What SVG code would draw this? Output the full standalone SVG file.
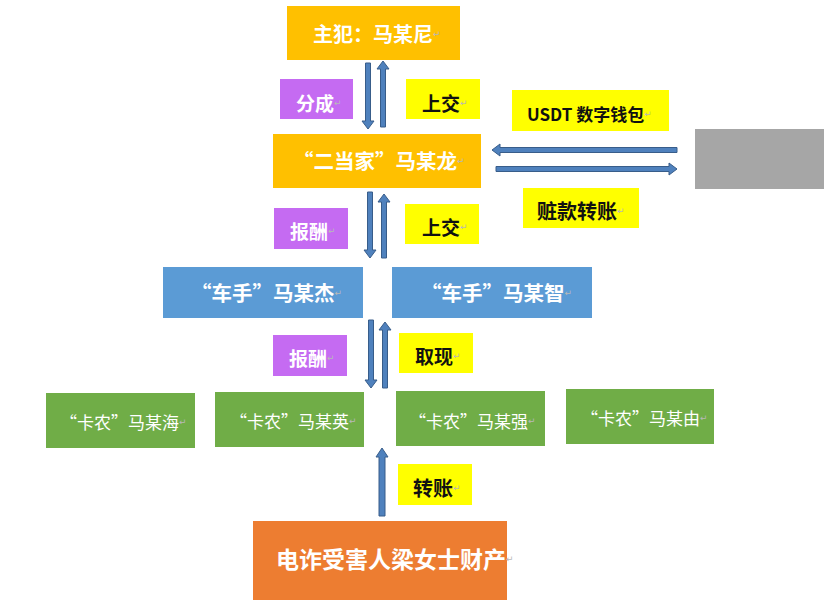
<svg xmlns="http://www.w3.org/2000/svg" width="836" height="608" viewBox="0 0 836 608">
<style>
.t{font-family:"Noto Sans CJK SC","DejaVu Sans",sans-serif;font-weight:bold;dominant-baseline:central}
.w{fill:#ffffff}
.k{fill:#111111}
.g{font-weight:normal}
.m{fill:#b8b8b8;font-size:9px;font-weight:normal}
.arr{fill:#4f81bd;stroke:#385d8a;stroke-width:1}
</style>
<rect width="836" height="608" fill="#ffffff"/>
<g id="zhufan"><rect x="287" y="6" width="173" height="54" fill="#ffc000"/><text class="t w" x="313" y="33" font-size="20">主犯：马某尼<tspan class="m">↵</tspan></text></g>
<g id="fencheng"><rect x="280" y="79" width="73" height="40" fill="#c56bf2"/><text class="t w" x="296" y="102" font-size="19">分成<tspan class="m">↵</tspan></text></g>
<g id="shangjiao1"><rect x="406" y="79" width="74" height="40" fill="#ffff00"/><text class="t k" x="422" y="102" font-size="19">上交<tspan class="m">↵</tspan></text></g>
<g id="erdangjia"><rect x="273" y="134" width="208" height="54" fill="#ffc000"/><text class="t w" x="293" y="160" font-size="20.5">“二当家”马某龙<tspan class="m">↵</tspan></text></g>
<g id="usdt"><rect x="512" y="90" width="157" height="41" fill="#ffff00"/><text class="t k" x="527" y="113" font-size="17">USDT 数字钱包<tspan class="m">↵</tspan></text></g>
<g id="wallet"><rect x="695" y="129" width="129" height="60" fill="#a6a6a6"/></g>
<g id="zangkuan"><rect x="523" y="188" width="116" height="40" fill="#ffff00"/><text class="t k" x="537" y="210" font-size="20">赃款转账<tspan class="m">↵</tspan></text></g>
<g id="baochou1"><rect x="274" y="208" width="74" height="41" fill="#c56bf2"/><text class="t w" x="290" y="230" font-size="19">报酬<tspan class="m">↵</tspan></text></g>
<g id="shangjiao2"><rect x="405" y="204" width="74" height="40" fill="#ffff00"/><text class="t k" x="422" y="226" font-size="19">上交<tspan class="m">↵</tspan></text></g>
<g id="cheshou1"><rect x="163" y="267" width="200" height="51" fill="#5b9bd5"/><text class="t w" x="191" y="292" font-size="20.5">“车手”马某杰<tspan class="m">↵</tspan></text></g>
<g id="cheshou2"><rect x="392" y="267" width="200" height="51" fill="#5b9bd5"/><text class="t w" x="421" y="292" font-size="20.5">“车手”马某智<tspan class="m">↵</tspan></text></g>
<g id="baochou2"><rect x="273" y="335" width="74" height="41" fill="#c56bf2"/><text class="t w" x="289" y="357" font-size="19">报酬<tspan class="m">↵</tspan></text></g>
<g id="quxian"><rect x="399" y="333" width="74" height="40" fill="#ffff00"/><text class="t k" x="415" y="355" font-size="19">取现<tspan class="m">↵</tspan></text></g>
<g id="kanong1"><rect x="46" y="393" width="149" height="55" fill="#70ad47"/><text class="t w g" x="60" y="421" font-size="17">“卡农”马某海<tspan class="m">↵</tspan></text></g>
<g id="kanong2"><rect x="215" y="392" width="149" height="55" fill="#70ad47"/><text class="t w g" x="230" y="420" font-size="17">“卡农”马某英<tspan class="m">↵</tspan></text></g>
<g id="kanong3"><rect x="396" y="391" width="149" height="55" fill="#70ad47"/><text class="t w g" x="409" y="420" font-size="17">“卡农”马某强<tspan class="m">↵</tspan></text></g>
<g id="kanong4"><rect x="566" y="389" width="148" height="55" fill="#70ad47"/><text class="t w g" x="581" y="417" font-size="17">“卡农”马某由<tspan class="m">↵</tspan></text></g>
<g id="zhuanzhang"><rect x="398" y="464" width="74" height="41" fill="#ffff00"/><text class="t k" x="413" y="487" font-size="20">转账<tspan class="m">↵</tspan></text></g>
<g id="victim"><rect x="253" y="521" width="254" height="79" fill="#ed7d31"/><text class="t w" x="276" y="558" font-size="23">电诈受害人梁女士财产<tspan class="m">↵</tspan></text></g>
<g id="connectors">
<polygon class="arr" points="365.5,63 370.5,63 370.5,121 374,121 368,129 362,121 365.5,121"/>
<polygon class="arr" points="383,61 389,69 385.5,69 385.5,127 380.5,127 380.5,69 377,69"/>
<polygon class="arr" points="367.5,192 372.5,192 372.5,250 376,250 370,258 364,250 367.5,250"/>
<polygon class="arr" points="384,194 390,202 386.5,202 386.5,258 381.5,258 381.5,202 378,202"/>
<polygon class="arr" points="368.5,320 373.5,320 373.5,380 377,380 371,388 365,380 368.5,380"/>
<polygon class="arr" points="385,322 391,330 387.5,330 387.5,388 382.5,388 382.5,330 379,330"/>
<polygon class="arr" points="382,448 388,457 385,457 385,516 379,516 379,457 376,457"/>
<polygon class="arr" points="492,150 500,144 500,147.5 677,147.5 677,152.5 500,152.5 500,156"/>
<polygon class="arr" points="677,169 669,163 669,166.5 496,166.5 496,171.5 669,171.5 669,175"/>
</g>
</svg>
